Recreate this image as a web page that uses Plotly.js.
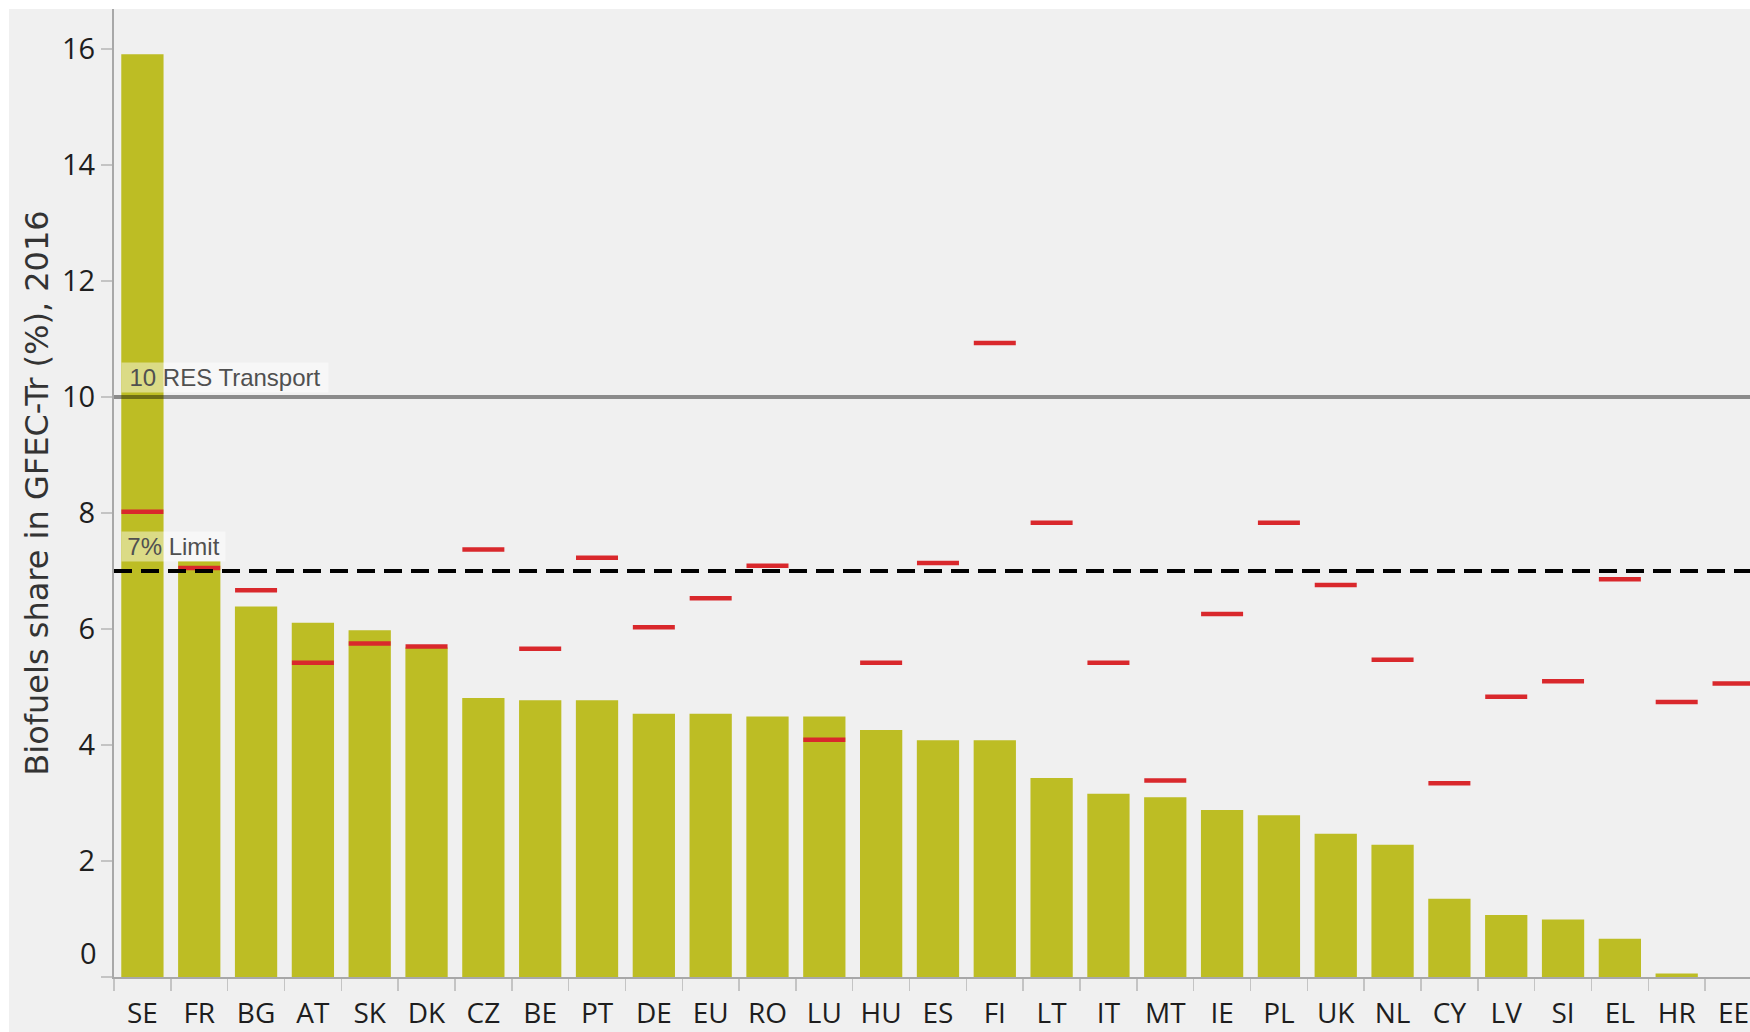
<!DOCTYPE html>
<html>
<head>
<meta charset="utf-8">
<script src="https://cdn.plot.ly/plotly-3.0.1.min.js"></script>
<style>
  html, body { margin: 0; padding: 0; background: #ffffff; width: 1750px; height: 1032px; overflow: hidden; }
  #chart { position: absolute; left: 9px; top: 9px; width: 1741px; height: 1023px; }
</style>
</head>
<body>
<div id="chart"></div>
<script>
// ---- data ----
const countries = ['SE','FR','BG','AT','SK','DK','CZ','BE','PT','DE','EU','RO','LU','HU','ES','FI','LT','IT','MT','IE','PL','UK','NL','CY','LV','SI','EL','HR','EE'];
const biofuelShare = [15.91, 7.17, 6.39, 6.11, 5.98, 5.68, 4.81, 4.77, 4.77, 4.54, 4.54, 4.49, 4.49, 4.26, 4.08, 4.08, 3.43, 3.16, 3.10, 2.88, 2.79, 2.47, 2.28, 1.35, 1.07, 0.99, 0.66, 0.06, 0];
const markerShare = [8.02, 7.05, 6.67, 5.42, 5.75, 5.70, 7.37, 5.66, 7.23, 6.03, 6.53, 7.09, 4.09, 5.42, 7.14, 10.93, 7.83, 5.42, 3.39, 6.26, 7.83, 6.76, 5.47, 3.34, 4.83, 5.10, 6.86, 4.74, 5.06];
const resTarget = 10;
const resLabel = '10 RES Transport';
const limitValue = 7;
const limitLabel = '7% Limit';
const yTickVals = [0, 2, 4, 6, 8, 10, 12, 14, 16];
const yTickText = ['0', '2', '4', '6', '8', '10', '12', '14', '16'];
const yTitle = 'Biofuels share in GFEC-Tr (%), 2016';

const traces = [
  {
    type: 'bar',
    x: countries,
    y: biofuelShare,
    marker: {color: '#bdbd24', line: {width: 0}},
    hoverinfo: 'x+y',
    showlegend: false
  },
  {
    type: 'scatter',
    mode: 'markers',
    x: countries,
    y: markerShare,
    // line-ew symbol is drawn 1.4 x size long -> 30 * 1.4 = 42 px (bar width)
    marker: {symbol: 'line-ew', size: 30, color: '#d9282c', line: {color: '#d9282c', width: 4.5}},
    hoverinfo: 'x+y',
    showlegend: false
  }
];

const layout = {
  width: 1741,
  height: 1023,
  margin: {l: 105, r: 0, t: 0, b: 55, pad: 0},
  paper_bgcolor: '#f0f0f0',
  plot_bgcolor: '#f0f0f0',
  bargap: 0.256,
  showlegend: false,
  xaxis: {
    type: 'category',
    range: [-0.5, 28.29],
    tickson: 'boundaries',
    ticks: 'outside',
    ticklen: 12,
    tickwidth: 1.5,
    tickcolor: '#c4c4c4',
    showline: true,
    linecolor: '#a8a8a8',
    linewidth: 2,
    showgrid: false,
    zeroline: false,
    tickfont: {family: 'Open Sans, sans-serif', size: 28, color: '#1e1e1e'},
    ticklabelstandoff: 10,
    tickangle: 0,
    automargin: false,
    fixedrange: true
  },
  yaxis: {
    range: [0, 16.69],
    tickmode: 'array',
    tickvals: yTickVals,
    ticktext: yTickText.map((t, i) => i === 0 ? '' : t),
    ticks: 'outside',
    ticklen: 11,
    tickwidth: 1.5,
    tickcolor: '#c4c4c4',
    showline: true,
    linecolor: '#a8a8a8',
    linewidth: 2,
    showgrid: false,
    zeroline: false,
    tickfont: {family: 'Open Sans, sans-serif', size: 29, color: '#1e1e1e'},
    automargin: false,
    title: {text: yTitle, font: {family: 'DejaVu Sans, sans-serif', size: 32, color: '#333333'}, standoff: 4},
    fixedrange: true
  },
  shapes: [
    {type: 'line', xref: 'paper', x0: 0, x1: 1, yref: 'y', y0: resTarget, y1: resTarget,
     line: {color: 'rgba(0,0,0,0.42)', width: 4}, layer: 'above'},
    {type: 'line', xref: 'paper', x0: 0, x1: 1, yref: 'y', y0: limitValue, y1: limitValue,
     line: {color: '#000000', width: 4, dash: '18px,9px'}, layer: 'above'}
  ],
  annotations: [
    {xref: 'x', x: -0.5, xanchor: 'left', xshift: 7, yref: 'y', y: resTarget, yanchor: 'bottom', yshift: 4,
     text: resLabel, showarrow: false, align: 'center', width: 204,
     font: {family: 'Liberation Sans, Arial, sans-serif', size: 24, color: '#505050'},
     bgcolor: 'rgba(255,255,255,0.45)', borderpad: 1, borderwidth: 1, bordercolor: 'rgba(0,0,0,0)'},
    {xref: 'x', x: -0.5, xanchor: 'left', xshift: 7, yref: 'y', y: limitValue, yanchor: 'bottom', yshift: 9,
     text: limitLabel, showarrow: false, align: 'center', width: 101,
     font: {family: 'Liberation Sans, Arial, sans-serif', size: 24, color: '#505050'},
     bgcolor: 'rgba(255,255,255,0.45)', borderpad: 1, borderwidth: 1, bordercolor: 'rgba(0,0,0,0)'},
    {xref: 'paper', x: 0, xanchor: 'right', xshift: -15, yref: 'y', y: yTickVals[0], yanchor: 'middle', yshift: 25,
     text: yTickText[0], showarrow: false, font: {family: 'Open Sans, sans-serif', size: 29, color: '#1e1e1e'}}
  ]
};

Plotly.newPlot('chart', traces, layout, {displayModeBar: false, staticPlot: true});
</script>
</body>
</html>
